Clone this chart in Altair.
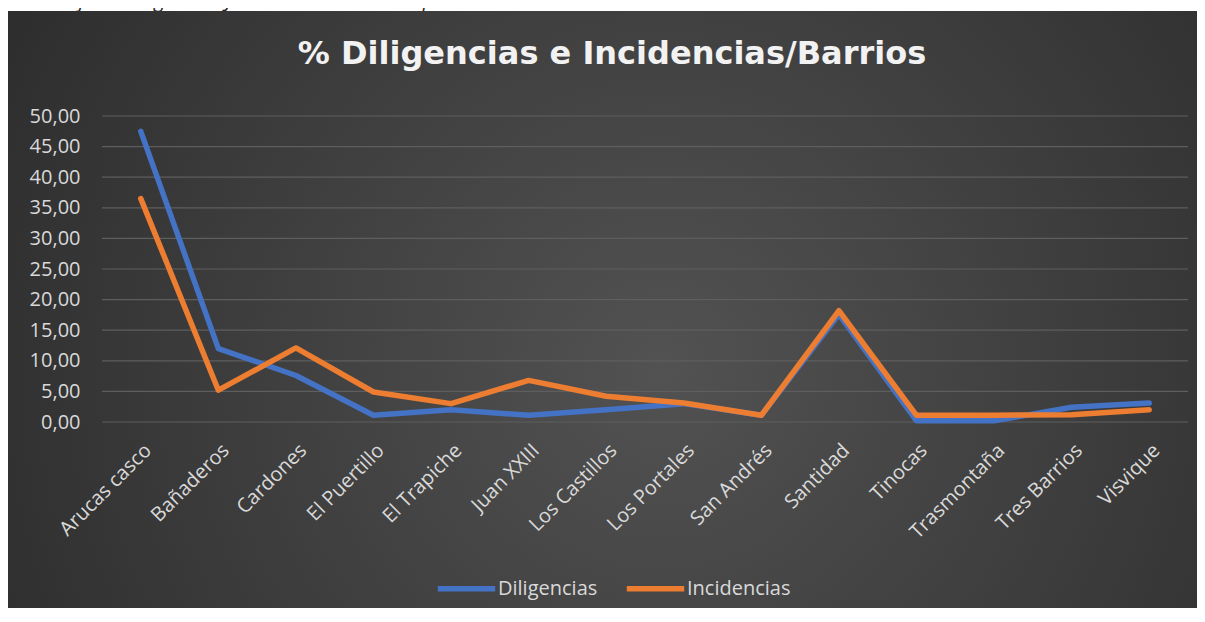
import altair as alt
import pandas as pd

categories = ["Arucas casco", "Bañaderos", "Cardones", "El Puertillo", "El Trapiche",
              "Juan XXIII", "Los Castillos", "Los Portales", "San Andrés", "Santidad",
              "Tinocas", "Trasmontaña", "Tres Barrios", "Visvique"]
diligencias = [47.5, 12.0, 7.6, 1.1, 2.0, 1.1, 2.0, 3.0, 1.1, 17.6, 0.2, 0.2, 2.4, 3.1]
incidencias = [36.5, 5.2, 12.1, 4.9, 3.0, 6.8, 4.2, 3.1, 1.1, 18.2, 1.1, 1.1, 1.2, 2.0]
series_names = ["Diligencias", "Incidencias"]
series_colors = ["#4472C4", "#ED7D31"]
y_ticks = [0, 5, 10, 15, 20, 25, 30, 35, 40, 45, 50]
title_text = "% Diligencias e Incidencias/Barrios"
caption_text = "Porcentaje de Diligencias Judiciales e Incidentes por Barrios"

rows = []
for name, vals in zip(series_names, [diligencias, incidencias]):
    for c, v in zip(categories, vals):
        rows.append({"Barrio": c, "Serie": name, "Valor": v})
df = pd.DataFrame(rows)
grid_df = pd.DataFrame({"v": y_ticks})

W, H = 1086, 306
PL, PT = 94, 108
TOTAL_W, TOTAL_H = 1189, 600

FONT = "Open Sans"

gradient = alt.RadialGradient(
    gradient="radial",
    stops=[alt.GradientStop(offset=0, color="#525252"),
           alt.GradientStop(offset=1, color="#262626")],
    x1=0.55, y1=0.55, r1=0, x2=0.55, y2=0.55, r2=0.75,
)

yscale = alt.Scale(domain=[0, 50], nice=False)
yaxis = alt.Axis(values=y_ticks, labelFontSize=20, labelFont=FONT,
                 labelColor="#D9D9D9", domain=False, ticks=False,
                 labelPadding=22, grid=False, zindex=1, title=None,
                 labelExpr="replace(format(datum.value, '.2f'), '.', ',')")

caption = alt.Chart(pd.DataFrame({"t": [caption_text]})).mark_text(
    align="left", baseline="alphabetic", font=FONT, fontStyle="italic",
    fontSize=20, color="#262626"
).encode(text="t:N", x=alt.value(-PL - 8), y=alt.value(-PT - 1))

panel = alt.Chart(pd.DataFrame({"a": [0]})).mark_rect(fill=gradient).encode(
    x=alt.value(-PL - 1), x2=alt.value(TOTAL_W - PL),
    y=alt.value(3 - PT), y2=alt.value(TOTAL_H - PT),
)

title = alt.Chart(pd.DataFrame({"t": [title_text]})).mark_text(
    align="center", baseline="alphabetic", font="DejaVu Sans", fontWeight="bold",
    fontSize=32, color="#F2F2F2"
).encode(text="t:N", x=alt.value(612 - 8 - PL), y=alt.value(56 - PT))

grid = alt.Chart(grid_df).mark_rule(color="#5E5E5E", strokeWidth=1.2).encode(
    y=alt.Y("v:Q", scale=yscale, axis=yaxis, title=None),
)

lines = alt.Chart(df).mark_line(strokeWidth=5.5, strokeCap="round", strokeJoin="round").encode(
    x=alt.X("Barrio:N", sort=categories, title=None,
            scale=alt.Scale(type="point", padding=0.5),
            axis=alt.Axis(labelAngle=-45, labelFontSize=20, labelFont=FONT,
                          labelColor="#D9D9D9", domain=False, ticks=False,
                          labelPadding=18, grid=False, zindex=1)),
    y=alt.Y("Valor:Q", title=None, scale=yscale, axis=yaxis),
    color=alt.Color("Serie:N", sort=series_names,
                    scale=alt.Scale(domain=series_names, range=series_colors),
                    legend=alt.Legend(orient="none", legendX=333, legendY=441,
                                      direction="horizontal", title=None,
                                      symbolType="stroke", symbolSize=3300,
                                      symbolStrokeWidth=5.5, labelFontSize=20,
                                      labelFont=FONT, labelColor="#D9D9D9",
                                      columnPadding=17, labelOffset=0, zindex=1)),
    order=alt.Order("Serie:N"),
)

chart = alt.layer(caption, panel, title, grid, lines).properties(
    width=W, height=H,
    autosize=alt.AutoSizeParams(type="none"),
    padding={"left": PL, "top": PT, "right": TOTAL_W - PL - W, "bottom": TOTAL_H - PT - H},
    background="white",
).configure_view(stroke=None)

chart.save("out.html", embed_options={"renderer": "svg", "actions": False})
